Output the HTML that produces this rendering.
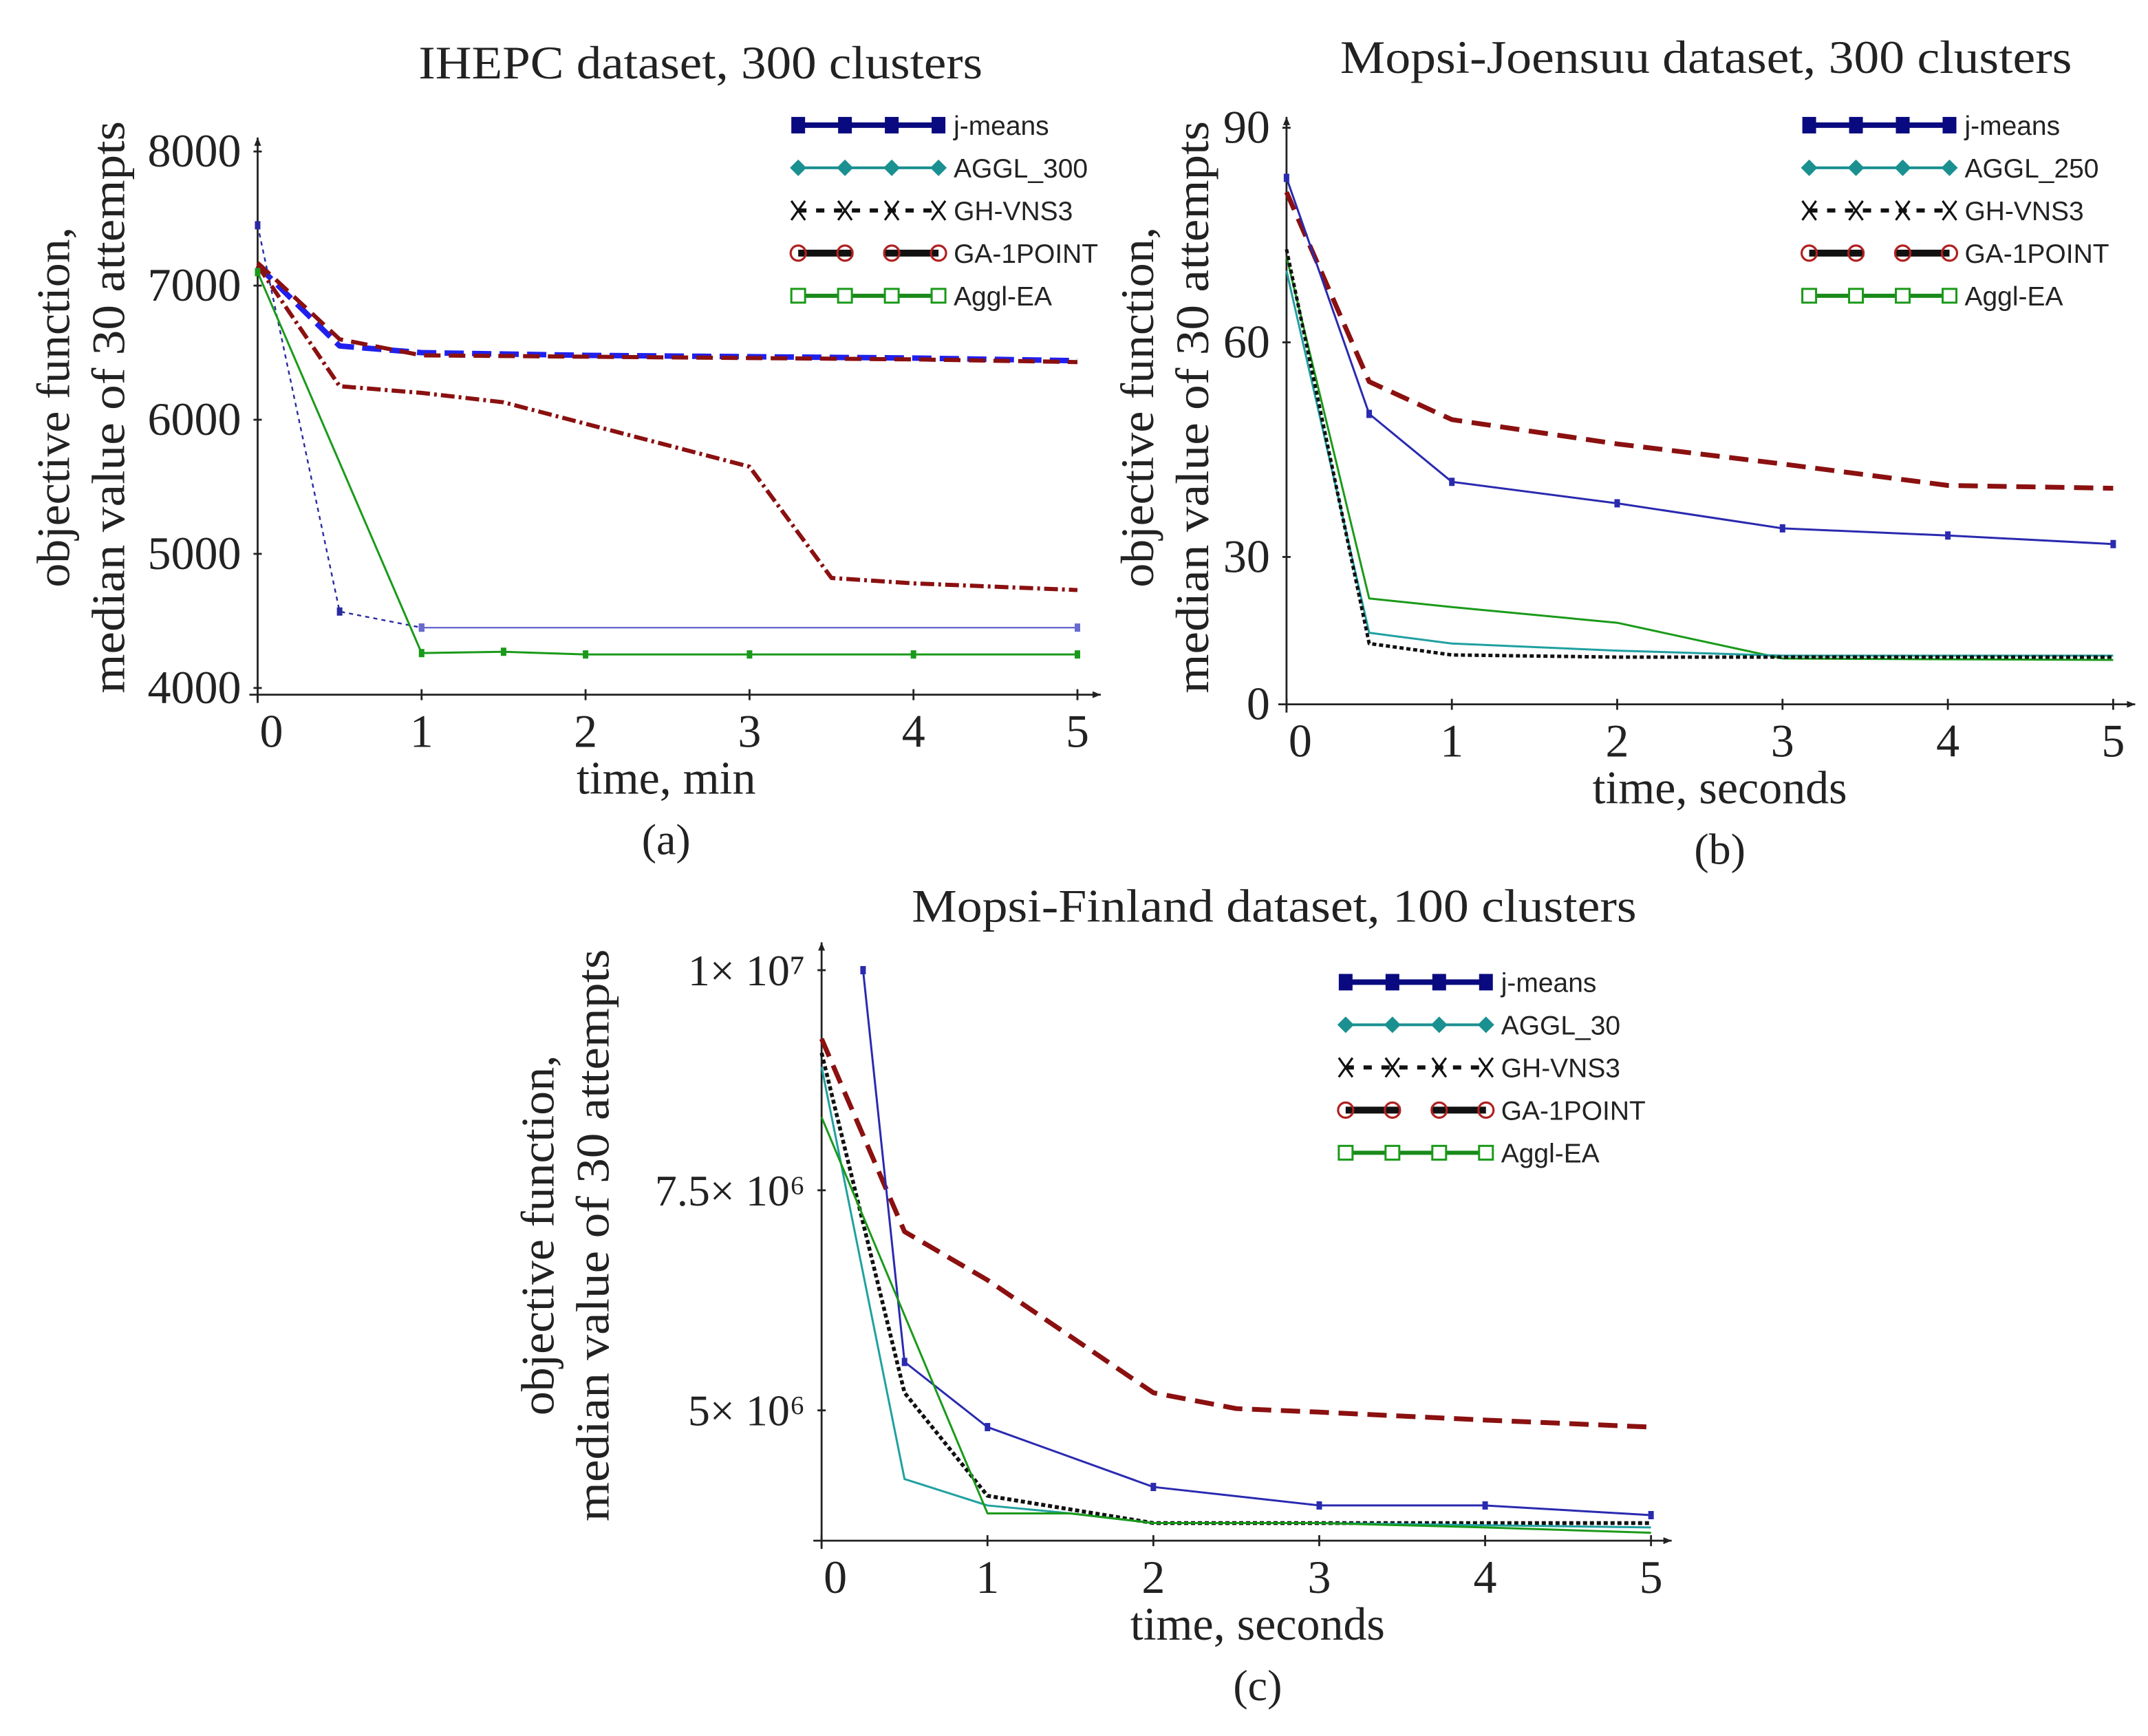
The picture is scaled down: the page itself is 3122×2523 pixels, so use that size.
<!DOCTYPE html>
<html><head><meta charset="utf-8"><style>
html,body{margin:0;padding:0;background:#fff;}
svg{display:block;}
.serif{font-family:"Liberation Serif",serif;fill:#222;}
.sans{font-family:"Liberation Sans",sans-serif;fill:#222;}
</style></head><body>
<svg id="fig" width="3122" height="2523" viewBox="0 0 1561 1262" xmlns="http://www.w3.org/2000/svg">
<rect width="1561" height="1262" fill="#fff"/>
</svg>
<script>
// ---------- data ----------
const xTicks = [0,1,2,3,4,5];
// Panel A (IHEPC)
const aYTicks = [4000,5000,6000,7000,8000];
const aJmX = [0,0.5,1];              const aJmY = [7450,4570,4450];
const aJm2X = [1,5];                 const aJm2Y = [4450,4450];
const aBlueX = [0,0.5,1,2,3,4,5];    const aBlueY = [7150,6550,6500,6480,6470,6460,6440];
const aRedX = [0,0.5,1,2,3,4,5];     const aRedY = [7170,6600,6480,6470,6460,6450,6430];
const aRdX = [0,0.5,1,1.5,2,3,3.5,4,5]; const aRdY = [7150,6250,6200,6130,5970,5650,4820,4780,4730];
const aGrX = [0,1,1.5,2,3,4,5];      const aGrY = [7100,4260,4270,4250,4250,4250,4250];
// Panel B (Mopsi-Joensuu)
const bYTicks = [30,60,90];
const bJmX = [0,0.5,1,2,3,4,5];  const bJmY = [83,50,40.5,37.5,34,33,31.8];
const bRedX = [0,0.5,1,2,3,4,5]; const bRedY = [81,54.5,49.2,45.8,43,40,39.6];
const bGrX = [0,0.5,1,2,3,5];    const bGrY = [72,24.2,23,20.8,15.8,15.6];
const bTlX = [0,0.5,1,2,3,5];    const bTlY = [70,19.4,17.9,16.9,16.2,16.2];
const bBkX = [0,0.5,1,2,5];      const bBkY = [73,17.9,16.3,16,16];
// Panel C (Mopsi-Finland), values in millions
const cYTicks = [5,7.5,10];
const cJmX = [0.25,0.5,1,2,3,4,5]; const cJmY = [10,5.55,4.81,4.13,3.92,3.92,3.81];
const cRedX = [0,0.5,1,2,2.5,3,4,5]; const cRedY = [9.22,7.03,6.48,5.2,5.02,4.98,4.89,4.81];
const cBkX = [0,0.5,1,2,5];        const cBkY = [9.06,5.2,4.03,3.72,3.72];
const cTlX = [0,0.5,1,1.5,2,3,5];  const cTlY = [8.9,4.22,3.92,3.83,3.72,3.72,3.67];
const cGrX = [0,1,1.5,2,3,4,5];    const cGrY = [8.33,3.83,3.83,3.72,3.72,3.67,3.61];

const NS="http://www.w3.org/2000/svg";
const svg=document.getElementById('fig');
function mk(tag,attrs,parent){const e=document.createElementNS(NS,tag);for(const k in attrs)e.setAttribute(k,attrs[k]);(parent||svg).appendChild(e);return e;}
function txt(s,x,y,cls,size,parent,anchor){const t=mk('text',{x:x,y:y,'class':cls,'font-size':size,'text-anchor':anchor||'middle'},parent);t.textContent=s;return t;}

function panel(p){
  const g=mk('g',{});
  
  
  const sx=v=>p.x0+(v-0)*p.ux;
  const sy=v=>p.yAxis-(v-p.yBase)*p.uy;
  const ax=mk('g',{},g);
  
  
  mk('line',{x1:p.x0-6,y1:p.yAxis,x2:p.xEnd,y2:p.yAxis,stroke:'#222','stroke-width':1.4},ax);
  mk('line',{x1:p.x0,y1:p.yAxis+6,x2:p.x0,y2:p.yTop,stroke:'#222','stroke-width':1.4},ax);
  mk('path',{d:`M${p.x0-2.5},${p.yTop+6} L${p.x0},${p.yTop} L${p.x0+2.5},${p.yTop+6}Z`,fill:'#222'},ax);
  mk('path',{d:`M${p.xEnd-6},${p.yAxis-2.5} L${p.xEnd},${p.yAxis} L${p.xEnd-6},${p.yAxis+2.5}Z`,fill:'#222'},ax);
  xTicks.forEach(v=>{
    mk('line',{x1:sx(v),y1:p.yAxis-4,x2:sx(v),y2:p.yAxis+4,stroke:'#222','stroke-width':1.4},ax);
    const t=txt(String(v),sx(v)+(v===0?10:0),p.yAxis+38,'serif',34,ax);
    
    
  });
  p.yTicks.forEach((v,i)=>{
    mk('line',{x1:p.x0-3,y1:sy(v),x2:p.x0+3,y2:sy(v),stroke:'#222','stroke-width':1.4},ax);
    const t=txt(p.yLabels[i],p.x0-12,sy(v)+11,'serif',p.tickSize||34,ax,'end');
    
    
  });
  if(p.zeroLabel){const t=txt(p.zeroLabel,p.x0-12,p.yAxis+11,'serif',34,ax,'end');
    
    }
  p.series.forEach(s=>{
    const pts=s.x.map((v,i)=>sx(v)+','+sy(s.y[i])).join(' ');
    const l=mk('polyline',{points:pts,fill:'none',stroke:s.c,'stroke-width':s.w,'stroke-dasharray':s.d||'none','stroke-linejoin':'round'},g);
    
    
    if(s.m){s.x.forEach((v,i)=>{mk('rect',{x:sx(v)-2,y:sy(s.y[i])-3,width:4,height:6,fill:s.c},g);});}
  });
  const tt=txt(p.title,p.titleX,p.titleY,'serif',34,g);
  tt.setAttribute('textLength',p.titleW);tt.setAttribute('lengthAdjust','spacingAndGlyphs');
  
  
  const xt=txt(p.xTitle,p.xTitleX,p.yAxis+72,'serif',34,g);
  
  
  const cap=txt(p.cap,p.xTitleX,p.yAxis+116,'serif',32,g);
  
  
  const yt=mk('text',{transform:`translate(${p.ytX},${p.ytY}) rotate(-90)`,'class':'serif','font-size':34,'text-anchor':'middle'},g);
  
  
  const s1=mk('tspan',{x:0,dy:0,textLength:262,lengthAdjust:'spacingAndGlyphs'},yt);s1.textContent='objective function,';
  const s2=mk('tspan',{x:0,dy:40,textLength:416,lengthAdjust:'spacingAndGlyphs'},yt);s2.textContent='median value of 30 attempts';
  const lg=mk('g',{transform:`translate(${p.lx},${p.ly})`},g);
  
  
  const names=['j-means',p.aggl,'GH-VNS3','GA-1POINT','Aggl-EA'];
  names.forEach((nm,i)=>{
    const y=i*31, e=mk('g',{},lg);
    
    
    const xs=[0,34,68,102];
    if(i===0){mk('line',{x1:0,y1:y,x2:102,y2:y,stroke:'#0a0a80','stroke-width':4},e);xs.forEach(x=>mk('rect',{x:x-5,y:y-6,width:10,height:12,fill:'#0a0a80'},e));}
    if(i===1){mk('line',{x1:0,y1:y,x2:102,y2:y,stroke:'#1a9090','stroke-width':2},e);xs.forEach(x=>mk('path',{d:`M${x-6},${y} L${x},${y-6} L${x+6},${y} L${x},${y+6}Z`,fill:'#1a9090'},e));}
    if(i===2){mk('line',{x1:0,y1:y,x2:102,y2:y,stroke:'#111','stroke-width':3,'stroke-dasharray':'6,7'},e);xs.forEach(x=>mk('path',{d:`M${x-5},${y-7} L${x+5},${y+7} M${x+5},${y-7} L${x-5},${y+7}`,stroke:'#111','stroke-width':1.6},e));}
    if(i===3){mk('line',{x1:0,y1:y,x2:40,y2:y,stroke:'#111','stroke-width':5},e);mk('line',{x1:62,y1:y,x2:102,y2:y,stroke:'#111','stroke-width':5},e);xs.forEach(x=>mk('circle',{cx:x,cy:y,r:5.5,fill:'none',stroke:'#b02020','stroke-width':1.6},e));}
    if(i===4){mk('line',{x1:0,y1:y,x2:102,y2:y,stroke:'#1a8a1a','stroke-width':3},e);xs.forEach(x=>mk('rect',{x:x-5,y:y-5,width:10,height:10,fill:'#fff',stroke:'#1a9a1a','stroke-width':1.5},e));}
    txt(nm,113,y+7,'sans',19.5,e,'start');
  });
}

panel({name:'chart-a-ihepc',x0:187,ux:119.2,yAxis:505,yBase:3950,uy:0.0975,yTop:100,xEnd:800,
  yTicks:aYTicks,yLabels:aYTicks.map(String),
  title:'IHEPC dataset, 300 clusters',titleX:509,titleY:57,titleW:410,xTitle:'time, min',xTitleX:484,cap:'(a)',
  ytX:50,ytY:296,lx:580,ly:91,aggl:'AGGL_300',
  series:[
   {n:'series-gh-vns3-blue',x:aBlueX,y:aBlueY,c:'#2020ee',w:4,d:'14,6'},
   {n:'series-ga-1point',x:aRedX,y:aRedY,c:'#8b1010',w:3,d:'12,6'},
   {n:'series-red-dashdot',x:aRdX,y:aRdY,c:'#8b1010',w:3,d:'10,3,2,3'},
   {n:'series-j-means',x:aJmX,y:aJmY,c:'#2a2aa0',w:1.2,d:'3,3',m:true},
   {n:'series-j-means-tail',x:aJm2X,y:aJm2Y,c:'#6a6ad0',w:1.2,m:true},
   {n:'series-aggl-ea',x:aGrX,y:aGrY,c:'#1a9a1a',w:1.5,m:true}
  ]});

panel({name:'chart-b-mopsi-joensuu',x0:935,ux:120.2,yAxis:512,yBase:9.4,uy:5.2,yTop:85,xEnd:1552,
  yTicks:bYTicks,yLabels:bYTicks.map(String),zeroLabel:'0',
  title:'Mopsi-Joensuu dataset, 300 clusters',titleX:1240,titleY:53,titleW:532,xTitle:'time, seconds',xTitleX:1250,cap:'(b)',
  ytX:838,ytY:296,lx:1315,ly:91,aggl:'AGGL_250',
  series:[
   {n:'series-ga-1point',x:bRedX,y:bRedY,c:'#8b1010',w:3.5,d:'14,7'},
   {n:'series-j-means',x:bJmX,y:bJmY,c:'#2a2ab0',w:1.5,m:true},
   {n:'series-aggl-ea',x:bGrX,y:bGrY,c:'#1a9a1a',w:1.5},
   {n:'series-aggl-250',x:bTlX,y:bTlY,c:'#20a0a0',w:1.5},
   {n:'series-gh-vns3',x:bBkX,y:bBkY,c:'#111',w:2.5,d:'3,2'}
  ]});

panel({name:'chart-c-mopsi-finland',x0:597,ux:120.6,yAxis:1120,yBase:3.52,uy:64,yTop:685,xEnd:1215,
  yTicks:cYTicks,yLabels:['5× 10⁶','7.5× 10⁶','1× 10⁷'],tickSize:32,
  title:'Mopsi-Finland dataset, 100 clusters',titleX:926,titleY:670,titleW:527,xTitle:'time, seconds',xTitleX:914,cap:'(c)',
  ytX:402,ytY:898,lx:978,ly:714,aggl:'AGGL_30',
  series:[
   {n:'series-ga-1point',x:cRedX,y:cRedY,c:'#8b1010',w:3.5,d:'14,7'},
   {n:'series-j-means',x:cJmX,y:cJmY,c:'#2a2ab0',w:1.5,m:true},
   {n:'series-gh-vns3',x:cBkX,y:cBkY,c:'#111',w:2.8,d:'3,2'},
   {n:'series-aggl-30',x:cTlX,y:cTlY,c:'#20a0a0',w:1.5},
   {n:'series-aggl-ea',x:cGrX,y:cGrY,c:'#1a9a1a',w:1.5}
  ]});
</script>
</body></html>
